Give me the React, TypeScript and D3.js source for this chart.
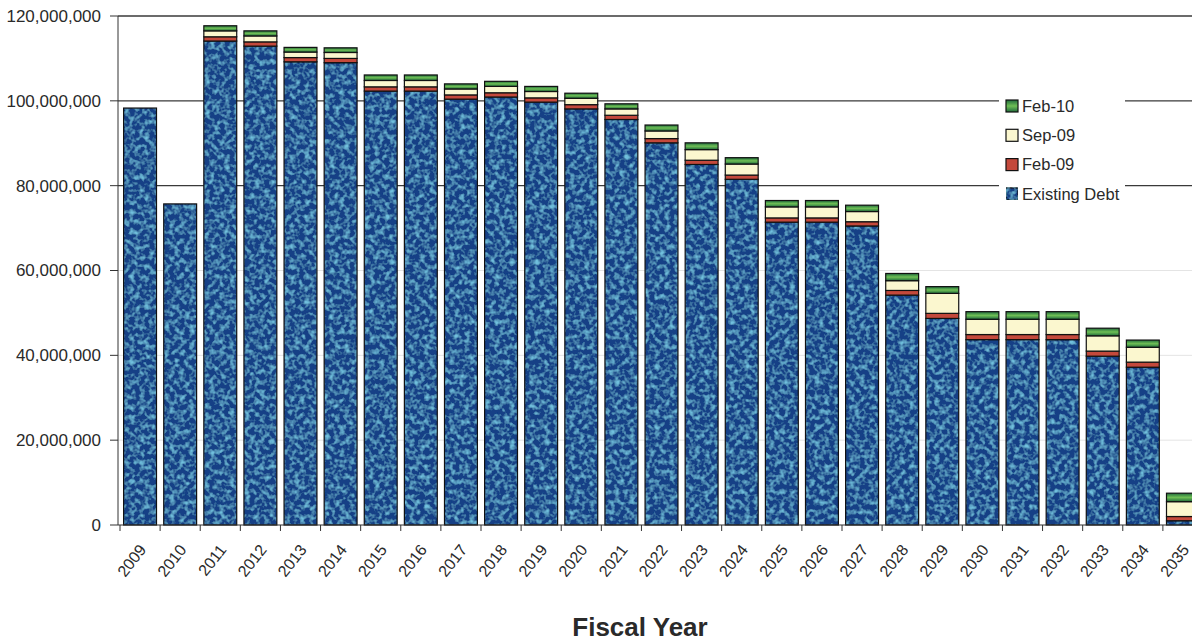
import React from "react";
import * as d3 from "d3";

const years = ["2009","2010","2011","2012","2013","2014","2015","2016","2017","2018","2019","2020","2021","2022","2023","2024","2025","2026","2027","2028","2029","2030","2031","2032","2033","2034","2035"];
// values in millions
const existingDebt = [98.3, 75.7, 114.1, 112.9, 109.2, 109.0, 102.3, 102.3, 100.4, 100.9, 99.7, 98.1, 95.6, 90.1, 85.0, 81.5, 71.4, 71.4, 70.5, 54.2, 48.7, 43.7, 43.7, 43.7, 39.8, 37.2, 1.0];
const feb09 = [0, 0, 1.0, 1.0, 1.0, 1.0, 1.0, 1.0, 1.0, 1.0, 1.0, 1.0, 1.0, 1.0, 1.0, 1.0, 1.0, 1.0, 1.0, 1.1, 1.2, 1.2, 1.2, 1.2, 1.2, 1.2, 1.0];
const sep09 = [0, 0, 1.4, 1.4, 1.3, 1.4, 1.5, 1.5, 1.4, 1.5, 1.5, 1.5, 1.5, 1.8, 2.5, 2.6, 2.6, 2.6, 2.4, 2.3, 4.7, 3.6, 3.6, 3.6, 3.6, 3.5, 3.5];
const feb10 = [0, 0, 1.2, 1.2, 1.1, 1.1, 1.3, 1.3, 1.2, 1.2, 1.2, 1.2, 1.2, 1.4, 1.6, 1.5, 1.5, 1.5, 1.5, 1.7, 1.6, 1.8, 1.8, 1.8, 1.8, 1.7, 2.0];
const yTicks = [0, 20, 40, 60, 80, 100, 120];
const seriesNames = ["Existing Debt", "Feb-09", "Sep-09", "Feb-10"];
const seriesColors = ["#173f86", "#c4493c", "#fbf7cf", "#2f8a4c"];
const legendOrder = ["Feb-10", "Sep-09", "Feb-09", "Existing Debt"];

export default function App() {
  const W = 1192, H = 642;
  const x = d3.scaleBand<string>().domain(years).range([120, 1203]).paddingInner(0.18).paddingOuter(0.09);
  const y = d3.scaleLinear().domain([0, 120]).range([525, 16]);
  const table = years.map((yr, i) => ({ year: yr, "Existing Debt": existingDebt[i], "Feb-09": feb09[i], "Sep-09": sep09[i], "Feb-10": feb10[i] }));
  const stack = d3.stack<any>().keys(seriesNames)(table);
  const color = d3.scaleOrdinal<string, string>().domain(seriesNames).range(seriesColors);
  const fmt = (v: number) => d3.format(",")(v * 1e6);
  const step = x.step();
  const font = "'Liberation Sans', Arial, sans-serif";

  return (
    <svg width={W} height={H} style={{ position: "absolute", left: 0, top: 0, background: "#fff" }} fontFamily={font}>
      <defs>
        <filter id="speckle" x="0" y="0" width="100%" height="100%">
          <feTurbulence type="fractalNoise" baseFrequency="0.2" numOctaves="2" seed="7" result="noise" />
          <feColorMatrix in="noise" type="matrix" values="0 0 0 0 0.16  0 0 0 0 0.52  0 0 0 0 0.72  2.6 0 0 0 -1.15" result="spots" />
          <feComposite in="spots" in2="SourceGraphic" operator="in" result="clipped" />
          <feMerge>
            <feMergeNode in="SourceGraphic" />
            <feMergeNode in="clipped" />
          </feMerge>
        </filter>
        <linearGradient id="greenGrad" x1="0" y1="0" x2="0" y2="1">
          <stop offset="0" stopColor="#1f6a3c" />
          <stop offset="0.5" stopColor="#6fbf55" />
          <stop offset="1" stopColor="#1f6a3c" />
        </linearGradient>
      </defs>

      {/* gridlines */}
      {yTicks.filter(t => t > 0).map(t => (
        <line key={"g" + t} x1={118} x2={W} y1={y(t)} y2={y(t)} stroke={t >= 80 ? "#3a3a3a" : "#e4e4e4"} strokeWidth={t >= 80 ? 1.3 : 1} />
      ))}

      {/* bars */}
      {stack.map((s) => (
        <g key={s.key}>
          {s.map((d, i) => {
            const v = d[1] - d[0];
            if (v <= 0) return null;
            const bx = x(years[i])!;
            const bw = x.bandwidth();
            const y0 = y(d[0]);
            const y1 = y(d[1]);
            const fill = s.key === "Feb-10" ? "url(#greenGrad)" : color(s.key);
            return (
              <g key={years[i]}>
                <rect x={bx} y={y1} width={bw} height={y0 - y1} fill={fill} filter={s.key === "Existing Debt" ? "url(#speckle)" : undefined} />
                <rect x={bx} y={y1} width={bw} height={y0 - y1} fill="none" stroke="#111" strokeWidth={1.2} />
              </g>
            );
          })}
        </g>
      ))}

      {/* y axis */}
      <line x1={118} x2={118} y1={16} y2={525} stroke="#333" strokeWidth={1} />
      {yTicks.map(t => (
        <g key={"t" + t}>
          <line x1={110} x2={118} y1={y(t)} y2={y(t)} stroke="#333" />
          <text x={101} y={y(t)} dy="0.35em" textAnchor="end" fontSize={17} fill="#2a2a2a">{fmt(t)}</text>
        </g>
      ))}

      {/* x axis */}
      <line x1={118} x2={W} y1={525} y2={525} stroke="#333" strokeWidth={1.2} />
      {years.map((yr, i) => {
        const bx = 120 + i * step;
        return <line key={"xt" + yr} x1={bx} x2={bx} y1={525} y2={531} stroke="#333" />;
      })}
      {years.map(yr => {
        const cx = x(yr)! + x.bandwidth() / 2;
        return (
          <text key={"xl" + yr} transform={`translate(${cx + 7},${550}) rotate(-52)`} textAnchor="end" fontSize={16} fill="#2a2a2a">{yr}</text>
        );
      })}

      <text x={640} y={636} textAnchor="middle" fontSize={26} fontWeight="bold" fill="#2a2a2a">Fiscal Year</text>

      {/* legend */}
      <rect x={999} y={92} width={126} height={116} fill="#fff" />
      {legendOrder.map((name, i) => {
        const ly = 106 + i * 29.3;
        const fill = name === "Feb-10" ? "url(#greenGrad)" : color(name);
        return (
          <g key={"lg" + name}>
            <rect x={1006} y={ly - 6} width={12} height={12} fill={fill} stroke="#111" strokeWidth={1.2} filter={name === "Existing Debt" ? "url(#speckle)" : undefined} />
            <text x={1022} y={ly} dy="0.35em" fontSize={16.5} fill="#2a2a2a">{name}</text>
          </g>
        );
      })}
    </svg>
  );
}
